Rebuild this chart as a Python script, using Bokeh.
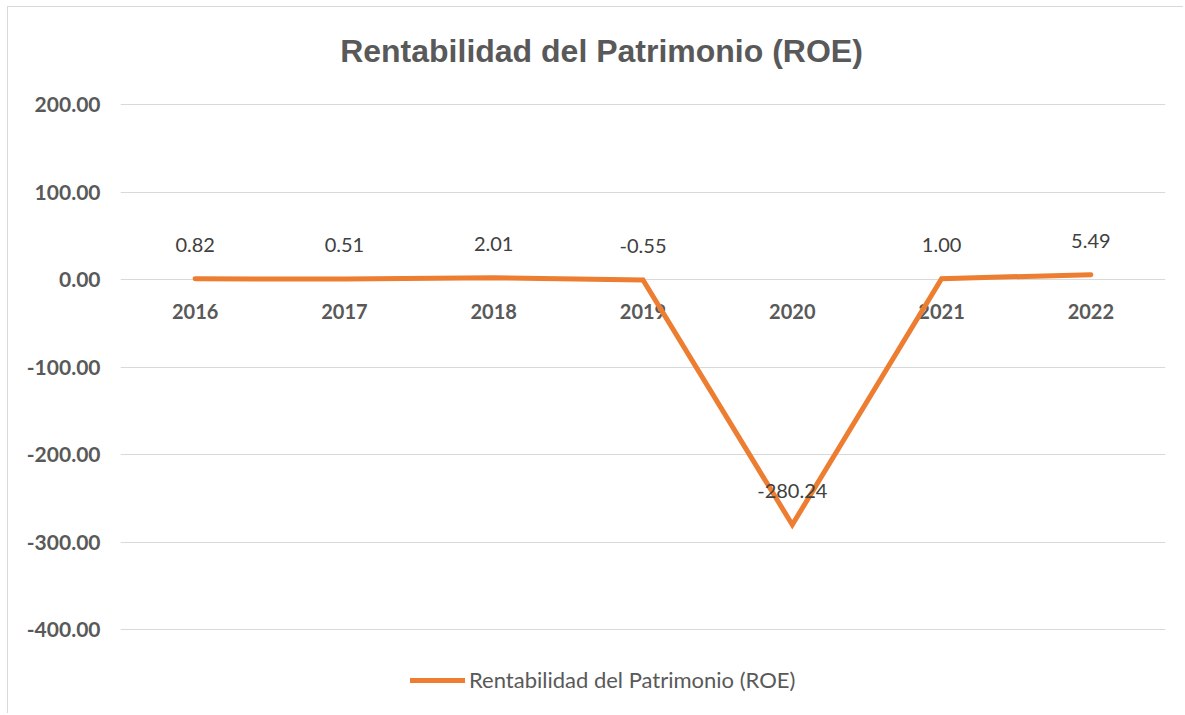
from bokeh.plotting import figure
from bokeh.models import (FactorRange, Range1d, FixedTicker, NumeralTickFormatter,
                          ColumnDataSource, Legend, LegendItem, Label)
from bokeh.core.properties import value
from bokeh.embed import file_html
from bokeh.resources import INLINE

years = ["2016", "2017", "2018", "2019", "2020", "2021", "2022"]
roe = [0.82, 0.51, 2.01, -0.55, -280.24, 1.00, 5.49]
roe_labels = ["0.82", "0.51", "2.01", "-0.55", "-280.24", "1.00", "5.49"]
axis_base = [0, 0, 0, 0, 0, 0, 0]  # category labels sit on the horizontal axis (y = 0)
y_ticks = [-400, -300, -200, -100, 0, 100, 200]
title_text = "Rentabilidad del Patrimonio (ROE)"
series_name = "Rentabilidad del Patrimonio (ROE)"

ORANGE = "#ED7D31"
GRID = "#D9D9D9"
AXIS_TXT = "#595959"

src = ColumnDataSource(dict(x=years, y=roe, lab=roe_labels))
axsrc = ColumnDataSource(dict(x=years, y=axis_base, lab=years))

# frame spans full chart height; value range chosen so 200 -> y104 and -400 -> y629 on page
p = figure(width=1176, height=707, output_backend="svg", toolbar_location=None,
           x_range=FactorRange(*years, range_padding=0),
           y_range=Range1d(-497.14, 310.86),
           min_border_left=112, min_border_right=19,
           min_border_top=0, min_border_bottom=0)
p.styles = {"margin-left": "7px", "margin-top": "6px",
            "border-left": "1px solid #D9D9D9", "border-top": "1px solid #D9D9D9"}
p.outline_line_color = None
p.background_fill_color = "white"
p.border_fill_color = "white"

# grid / axes
p.xgrid.grid_line_color = None
p.xaxis.visible = False
p.ygrid.grid_line_color = GRID
p.ygrid.grid_line_width = 1
p.yaxis.ticker = FixedTicker(ticks=y_ticks)
p.yaxis.formatter = NumeralTickFormatter(format="0.00")
p.yaxis.axis_line_color = None
p.yaxis.major_tick_line_color = None
p.yaxis.minor_tick_line_color = None
p.yaxis.major_label_text_font = "Lato"
p.yaxis.major_label_text_font_style = "bold"
p.yaxis.major_label_text_font_size = "21px"
p.yaxis.major_label_text_color = AXIS_TXT
p.yaxis.major_label_standoff = 14

# category labels on the zero line
p.text("x", "y", text="lab", source=axsrc, text_font=value("Lato"),
       text_font_style="bold", text_font_size="20px", text_color=AXIS_TXT,
       text_align="center", text_baseline="middle", y_offset=32)

r = p.line("x", "y", source=src, line_color=ORANGE, line_width=5,
           line_cap="round", line_join="miter")

p.text("x", "y", text="lab", source=src, text_font=value("Lato"),
       text_font_size="20px", text_color="#404040", text_align="center",
       text_baseline="middle", y_offset=-34)

# title
p.add_layout(Label(x=481, y=664, x_units="screen", y_units="screen",
                   text=title_text, text_font="Liberation Sans", text_font_style="bold",
                   text_font_size="32px", text_color=AXIS_TXT, text_align="center",
                   text_baseline="middle"))

legend = Legend(items=[LegendItem(label=series_name, renderers=[r])],
                location=(290, 21), orientation="horizontal",
                glyph_width=55, glyph_height=20, label_height=20, label_standoff=4,
                label_text_font="Lato", label_text_font_size="22px",
                label_text_color=AXIS_TXT, padding=0, margin=0, spacing=0,
                border_line_color=None, background_fill_alpha=0)
p.add_layout(legend, "center")

open("out.html", "w").write(file_html(p, INLINE))
